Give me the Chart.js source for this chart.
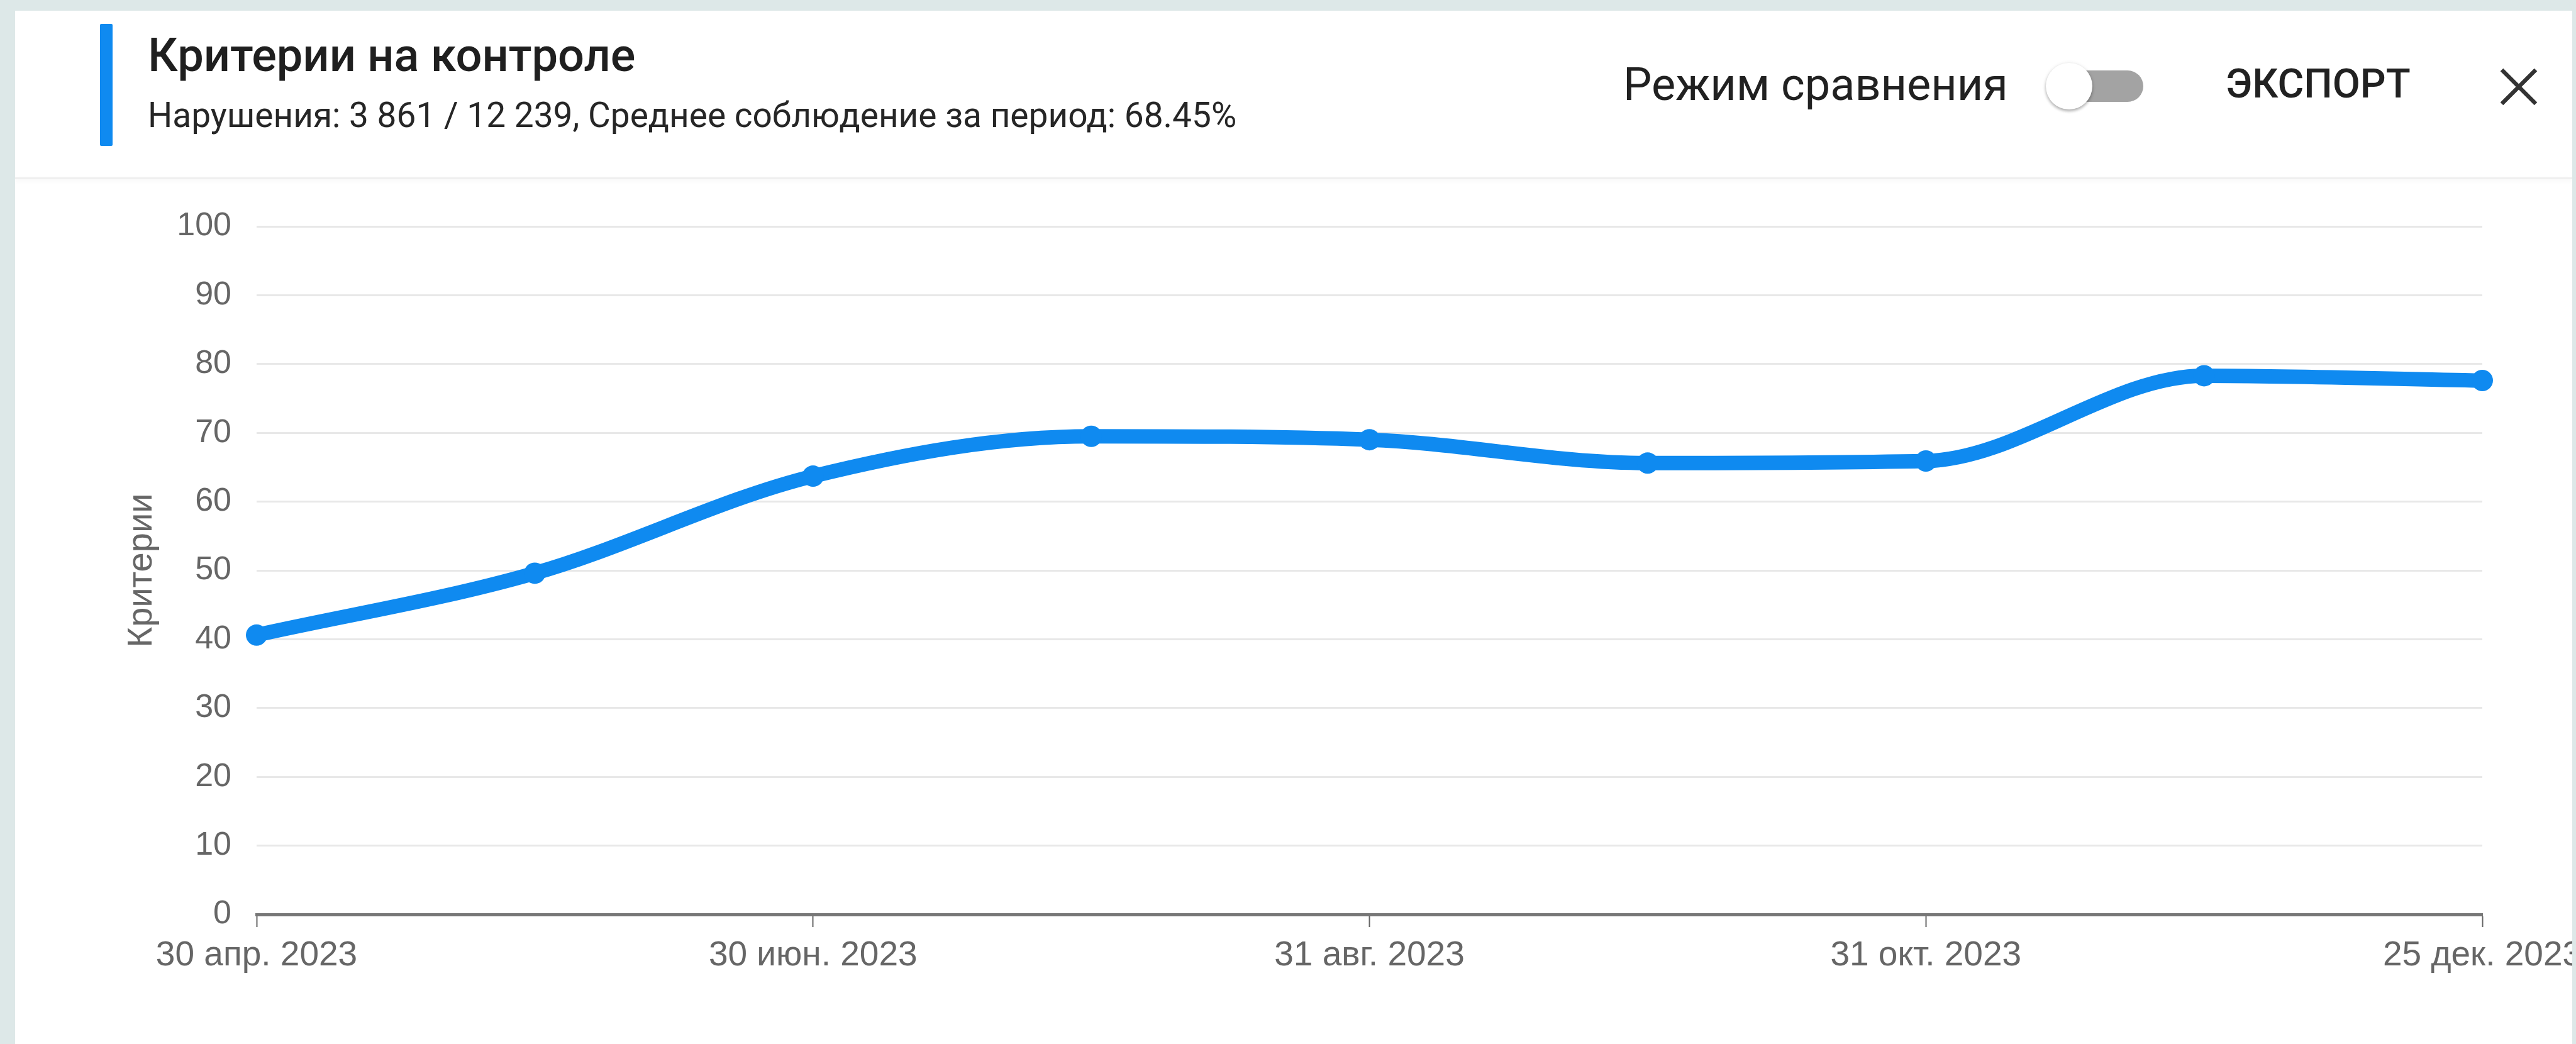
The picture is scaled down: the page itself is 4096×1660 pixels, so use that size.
<!DOCTYPE html>
<html>
<head>
<meta charset="UTF-8">
<title>Критерии на контроле</title>
<script src="https://cdn.jsdelivr.net/npm/chart.js"></script>
<style>
  html, body { margin: 0; padding: 0; width: 4096px; height: 1660px; overflow: hidden; background: #dde8e8; font-family: Roboto, 'Noto Sans', sans-serif; }
  #card { position: absolute; left: 24px; top: 17px; width: 4066px; height: 1700px; background: #fff; overflow: hidden; }
  .abs { position: absolute; white-space: nowrap; line-height: 1; }
  #bar { left: 135px; top: 21px; width: 20px; height: 194px; background: #0f8af0; border-radius: 2px; }
  #title { left: 211px; top: 34px; font-size: 74px; font-weight: 500; color: #1f1f1f; }
  #subtitle { left: 211px; top: 139px; font-size: 55px; color: #262626; }
  #mode { left: 2557px; top: 82px; font-size: 72px; color: #212121; }
  #track { left: 3240px; top: 95px; width: 144px; height: 50px; border-radius: 25px; background: #a3a3a3; }
  #thumb { left: 3229px; top: 83px; width: 74px; height: 74px; border-radius: 50%; background: #fff; box-shadow: 0 3px 4px rgba(0,0,0,0.25), 0 1px 6px rgba(0,0,0,0.12); }
  #export { left: 3515px; top: 85px; font-size: 64px; font-weight: 500; color: #212121; }
  #close { left: 3950px; top: 90px; width: 62px; height: 62px; }
  #sep { left: 0; top: 265px; width: 4066px; height: 3px; background: #efefef; box-shadow: 0 3px 6px rgba(0,0,0,0.05); }
  #chart { position: absolute; left: 0; top: 283px; }
</style>
</head>
<body>
<div id="card">
  <div class="abs" id="bar"></div>
  <div class="abs" id="title">Критерии на контроле</div>
  <div class="abs" id="subtitle">Нарушения: 3 861 / 12 239, Среднее соблюдение за период: 68.45%</div>
  <div class="abs" id="mode">Режим сравнения</div>
  <div class="abs" id="track"></div>
  <div class="abs" id="thumb"></div>
  <div class="abs" id="export">ЭКСПОРТ</div>
  <svg class="abs" id="close" viewBox="0 0 62 62"><path d="M4 4 L58 58 M58 4 L4 58" stroke="#333" stroke-width="6.5"/></svg>
  <div class="abs" id="sep"></div>
  <canvas id="chart" width="4096" height="1274"></canvas>
</div>
<script>
    const labels = ['30 апр. 2023', '31 мая 2023', '30 июн. 2023', '31 июл. 2023', '31 авг. 2023',
        '30 сент. 2023', '31 окт. 2023', '30 нояб. 2023', '25 дек. 2023'];
    const values = [40.6, 49.6, 63.7, 69.5, 69.0, 65.6, 65.9, 78.3, 77.6];
    const yMin = 0;
    const yMax = 100;
    const yStep = 10;
    const yTitle = 'Критерии';

    const blue = '#0f8af0';
    const family = "'Liberation Sans', Arial, sans-serif";

    const config = {
        type: 'line',
        data: {
            labels: labels,
            datasets: [{
                data: values,
                borderColor: blue,
                backgroundColor: blue,
                pointBackgroundColor: blue,
                borderWidth: 23,
                pointRadius: 17,
                pointBorderWidth: 0,
                cubicInterpolationMode: 'monotone',
                fill: false,
                clip: false
            }]
        },
        options: {
            responsive: false,
            animation: false,
            layout: {padding: {top: 60}},
            plugins: {legend: {display: false}, tooltip: {enabled: false}},
            scales: {
                x: {
                    grid: {drawOnChartArea: false, drawTicks: true, tickLength: 20, tickWidth: 2, tickColor: '#666'},
                    border: {display: true, color: '#777', width: 5},
                    ticks: {autoSkip: true, maxTicksLimit: 5, maxRotation: 0, padding: 13, color: '#666', font: {family: family, size: 55}},
                    afterFit: s => { s.height = 120; s.paddingLeft = 0; s.paddingRight = 173; }
                },
                y: {
                    min: yMin,
                    max: yMax,
                    ticks: {stepSize: yStep, padding: 40, color: '#666', font: {family: family, size: 52}},
                    grid: {color: '#e8e8e8', lineWidth: 3, drawTicks: false},
                    border: {display: false},
                    title: {display: true, text: yTitle, color: '#666', font: {family: family, size: 56}, padding: {top: 168, bottom: 0}},
                    afterFit: s => { s.width = 384; s.paddingTop = 0; s.paddingBottom = 0; }
                }
            }
        }
    };

    new Chart(document.getElementById('chart').getContext('2d'), config);
</script>
</body>
</html>
